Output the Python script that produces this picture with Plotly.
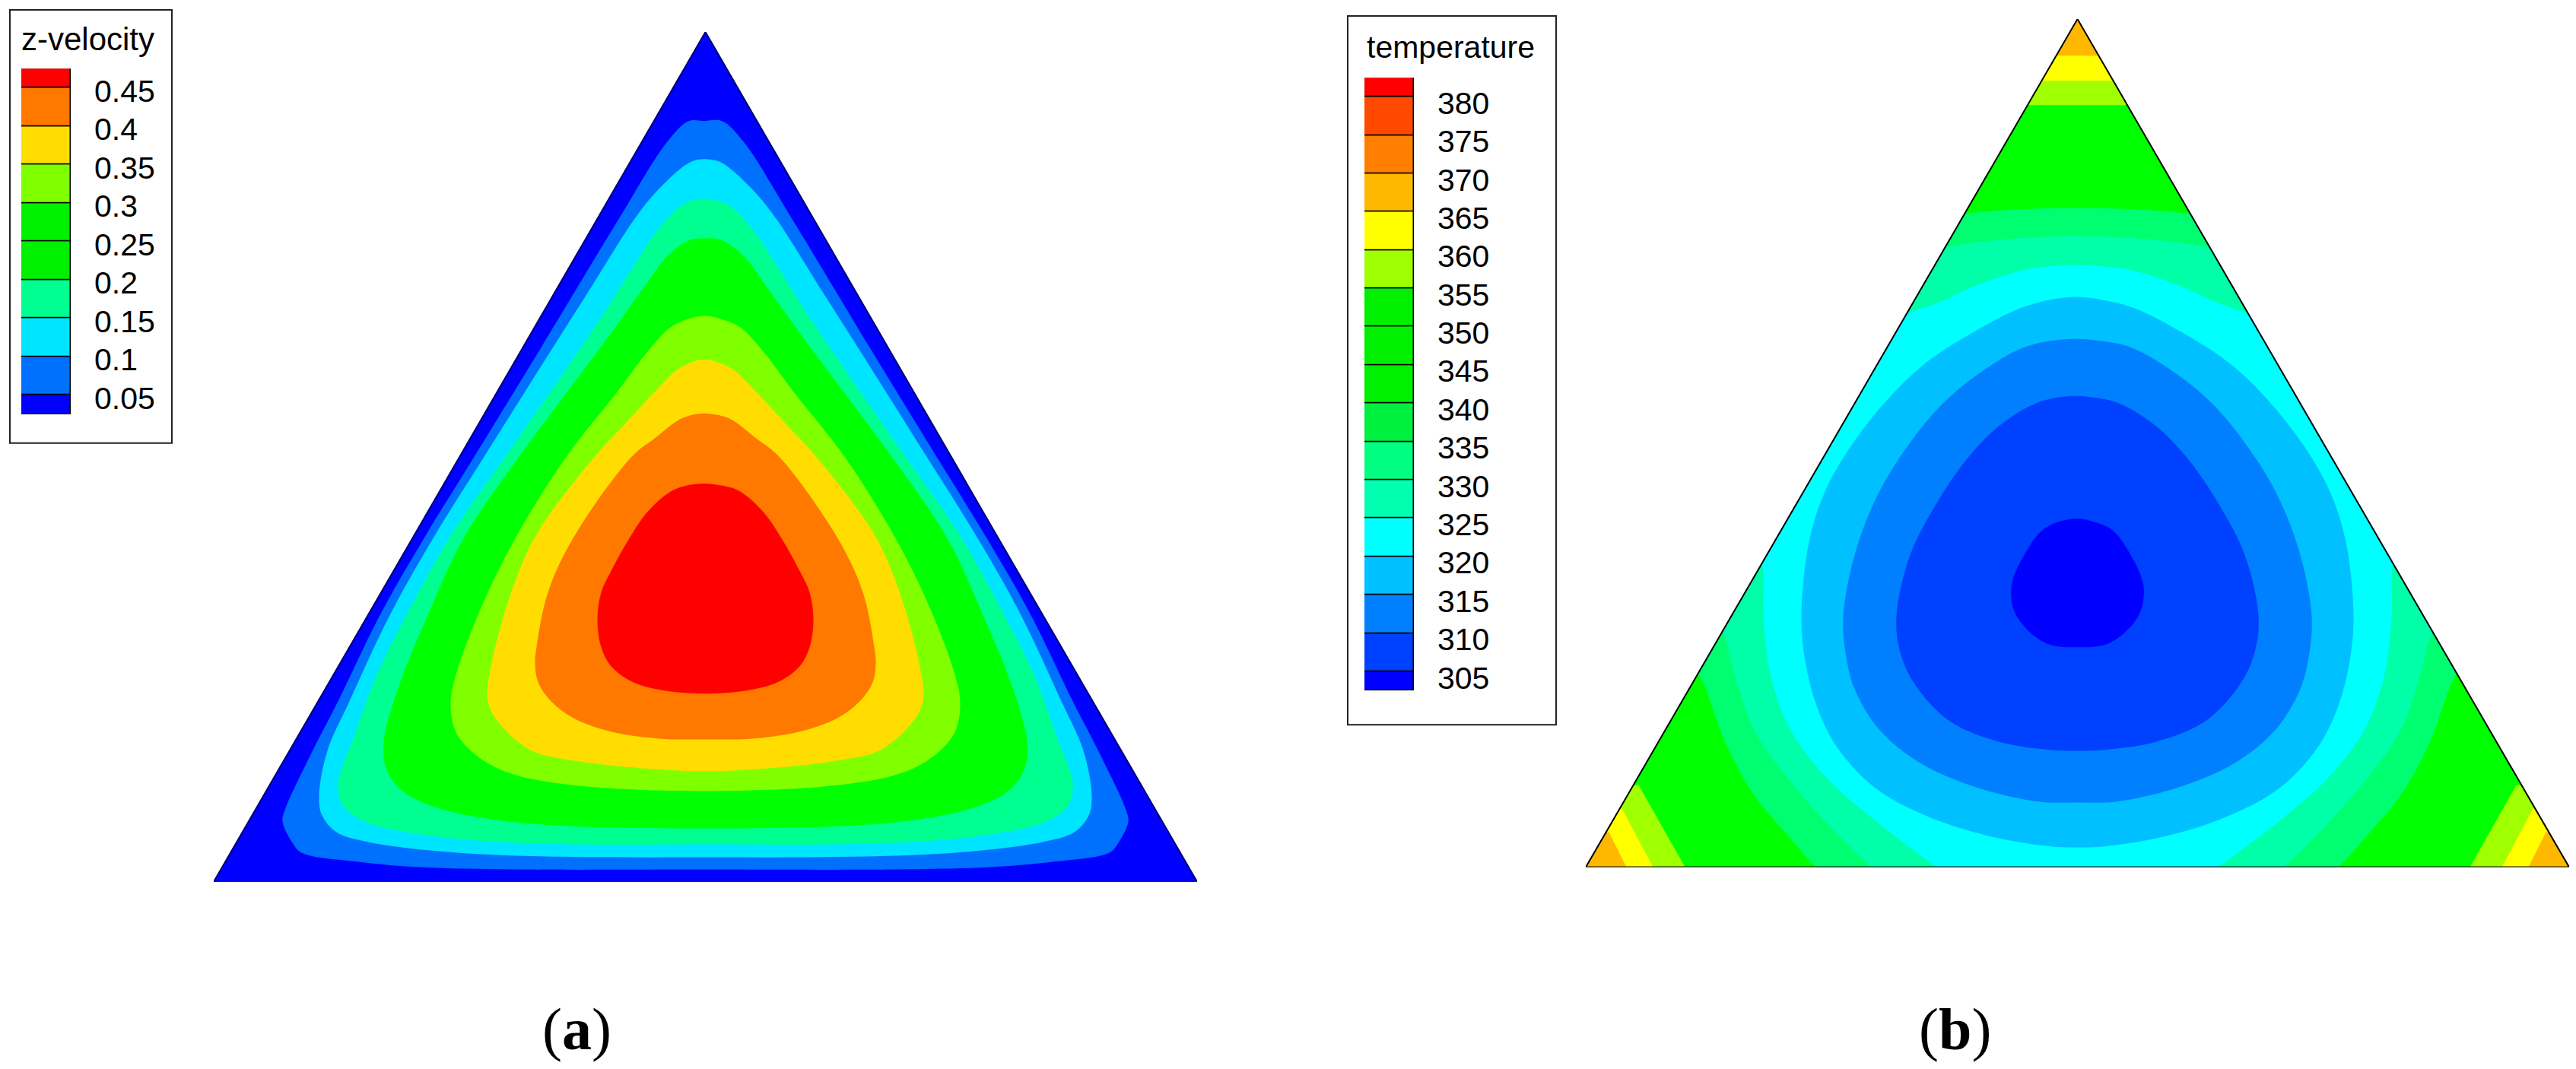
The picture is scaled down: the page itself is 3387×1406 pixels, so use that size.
import plotly.graph_objects as go

# the page keeps the browser's 8px body margin, so the figure starts at (8, 8)
PAGE_W, PAGE_H = 3387, 1406
MARGIN = 8
W, H = PAGE_W - 2 * MARGIN, PAGE_H - 2 * MARGIN
# the photo comes back a little squashed in height
Y_FIX = 0.9943

# legend (a): band edges, colours, labels
vel_edges = [0.025, 0.05, 0.1, 0.15, 0.2, 0.25, 0.3, 0.35, 0.4, 0.45, 0.475]
vel_colors = ["#0000ff", "#0070ff", "#00e5ff", "#00ff90", "#00f000", "#00f000",
              "#80ff00", "#ffdd00", "#ff7800", "#ff0000"]
vel_ticks = [0.05, 0.1, 0.15, 0.2, 0.25, 0.3, 0.35, 0.4, 0.45]
vel_labels = ["0.05", "0.1", "0.15", "0.2", "0.25", "0.3", "0.35", "0.4", "0.45"]

# legend (b)
temp_edges = [302.5, 305, 310, 315, 320, 325, 330, 335, 340, 345, 350, 355, 360,
              365, 370, 375, 380, 382.5]
temp_colors = ["#0000ff", "#0040ff", "#0080ff", "#00c0ff", "#00ffff", "#00ffb0",
               "#00ff80", "#00f040", "#00f000", "#00f000", "#00f000", "#a0ff00",
               "#ffff00", "#ffb800", "#ff8000", "#ff4800", "#ff0000"]
temp_ticks = [305, 310, 315, 320, 325, 330, 335, 340, 345, 350, 355, 360, 365,
              370, 375, 380]

# z-velocity contour lines, right half, from the top centre round to the bottom centre
vel05_x = [0, 22, 50, 113, 217, 304, 370, 428, 483, 520, 553, 556, 543, 531, 456, 373, 249, 0]
vel05_y = [999, 999, 972, 872, 700, 558, 451, 350, 237, 165, 94, 79, 51, 38, 26, 19, 16, 16]
vel10_x = [0, 20, 57, 90, 157, 230, 291, 358, 415, 468, 497, 508, 504, 485, 448, 373, 249, 0]
vel10_y = [949, 945, 914, 875, 770, 655, 558, 451, 350, 237, 172, 112, 87, 65, 53, 42, 34, 32]
vel15_x = [0, 30, 67, 95, 143, 199, 263, 337, 393, 432, 462, 483, 477, 448, 373, 249, 0]
vel15_y = [897, 889, 850, 807, 732, 650, 558, 451, 350, 272, 190, 129, 101, 79, 62, 51, 49]
vel20_x = [0, 20, 50, 77, 129, 185, 245, 318, 365, 402, 423, 419, 398, 352, 249, 0]
vel20_y = [845, 843, 822, 786, 714, 639, 558, 451, 350, 260, 183, 147, 119, 97, 78, 70]
vel30_x = [0, 43, 73, 117, 183, 250, 295, 328, 335, 330, 319, 290, 249, 166, 0]
vel30_y = [743, 730, 700, 642, 558, 451, 360, 272, 235, 201, 183, 158, 140, 126, 119]
vel35_x = [0, 33, 67, 107, 150, 225, 262, 284, 287, 282, 265, 228, 166, 83, 0]
vel35_y = [686, 675, 643, 600, 553, 451, 360, 272, 245, 225, 201, 172, 158, 149, 145]
vel40_x = [0, 30, 67, 97, 174, 207, 222, 224, 220, 203, 174, 124, 62, 0]
vel40_y = [615, 609, 582, 558, 451, 380, 308, 287, 262, 237, 215, 197, 188, 187]
vel45_x = [0, 41, 75, 100, 124, 137, 142, 137, 124, 95, 54, 0]
vel45_y = [523, 515, 487, 451, 408, 380, 344, 308, 283, 262, 251, 247]

# temperature contour lines, right half; points past the triangle sit under the mask
t335_x = [0, 80, 148, 240, 500, 620, 545, 496, 464, 426, 381, 343, 270, 0]
t335_y = [866, 864, 858, 835, 700, 450, 330, 251, 166, 96, 42, 0, -60, -80]
t330_x = [0, 80, 169, 260, 500, 610, 520, 467, 450, 425, 377, 324, 271, 200, 0]
t330_y = [829, 826, 815, 790, 650, 430, 380, 309, 250, 180, 112, 52, 0, -60, -80]
t325_x = [0, 67, 133, 187, 224, 320, 520, 480, 425, 414, 413, 403, 377, 333, 267, 185, 100, 0]
t325_y = [791, 785, 764, 740, 727, 680, 550, 470, 440, 394, 330, 250, 180, 121, 62, 0, -60, -80]
t320_x = [0, 67, 133, 200, 250, 300, 333, 353, 363, 358, 343, 317, 267, 200, 117, 33, 0]
t320_y = [749, 737, 705, 662, 614, 550, 491, 427, 330, 271, 212, 159, 105, 68, 41, 27, 26]
t315_x = [0, 67, 133, 183, 233, 267, 293, 308, 305, 293, 260, 207, 133, 50, 0]
t315_y = [694, 684, 646, 603, 539, 480, 410, 330, 282, 234, 180, 137, 105, 86, 85]
t310_x = [0, 50, 100, 143, 187, 220, 238, 233, 213, 167, 100, 33, 0]
t310_y = [619, 611, 582, 539, 475, 410, 330, 282, 239, 191, 164, 154, 153]
t305_x = [0, 43, 70, 87, 80, 43, 0]
t305_y = [458, 445, 410, 368, 330, 295, 289]

# hot corners of the temperature field, lower right
t355_x = [516, 577, 650, 650]
t355_y = [0, 108, 108, 0]
t360_x = [558, 599, 650, 650]
t360_y = [0, 77, 77, 0]
t365_x = [593, 616, 650, 650]
t365_y = [0, 46, 46, 0]
# same levels at the top corner
top_levels = [1001, 1033, 1066]


def mirror(x, y):
    # runs one point past the start so the spline has no kink at the top
    mx = x + [-v for v in reversed(x[1:-1])] + [x[0], x[1]]
    my = y + list(reversed(y[1:-1])) + [y[0], y[1]]
    return mx, my


def patch(x, y, color, xa, ya, shape="spline"):
    return go.Scatter(x=x, y=y, xaxis=xa, yaxis=ya, mode="lines", fill="toself",
                      fillcolor=color, line=dict(width=0, shape=shape, color=color),
                      hoverinfo="skip", showlegend=False)


fig = go.Figure()
green = "#00ff00"

# panel a
half_a = 646.5
top_a = 1116
fig.add_trace(patch([-half_a, half_a, 0, -half_a], [0, 0, top_a, 0], vel_colors[0], "x", "y", "linear"))
vel_lines = [(vel05_x, vel05_y, vel_colors[1]), (vel10_x, vel10_y, vel_colors[2]),
             (vel15_x, vel15_y, vel_colors[3]), (vel20_x, vel20_y, green),
             (vel30_x, vel30_y, vel_colors[6]), (vel35_x, vel35_y, vel_colors[7]),
             (vel40_x, vel40_y, vel_colors[8]), (vel45_x, vel45_y, vel_colors[9])]
for lx, ly, c in vel_lines:
    mx, my = mirror(lx, ly)
    fig.add_trace(patch(mx, my, c, "x", "y"))
fig.add_trace(go.Scatter(x=[-half_a, half_a, 0, -half_a], y=[0, 0, top_a, 0], mode="lines",
                         line=dict(color="#000070", width=2), cliponaxis=False,
                         hoverinfo="skip", showlegend=False))

# panel b
half_b = 646.5
top_b = 1114
fig.add_trace(patch([-half_b, half_b, 0, -half_b], [0, 0, top_b, 0], green, "x2", "y2", "linear"))
for cx, cy, c, lev in [(t355_x, t355_y, "#a0ff00", top_levels[0]),
                       (t360_x, t360_y, "#ffff00", top_levels[1]),
                       (t365_x, t365_y, "#ffb800", top_levels[2])]:
    fig.add_trace(patch(cx, cy, c, "x2", "y2", "linear"))
    fig.add_trace(patch([-v for v in cx], cy, c, "x2", "y2", "linear"))
    fig.add_trace(patch([-200, 200, 200, -200], [lev, lev, top_b, top_b], c, "x2", "y2", "linear"))
temp_lines = [(t335_x, t335_y, "#00ff70"), (t330_x, t330_y, "#00ffa8"),
              (t325_x, t325_y, "#00ffff"), (t320_x, t320_y, "#00c0ff"),
              (t315_x, t315_y, "#0080ff"), (t310_x, t310_y, "#0040ff"),
              (t305_x, t305_y, "#0000ff")]
for lx, ly, c in temp_lines:
    mx, my = mirror(lx, ly)
    fig.add_trace(patch(mx, my, c, "x2", "y2"))
# white cover outside the triangle
fig.add_trace(patch([-half_b, 0, -half_b, -half_b], [0, top_b, top_b, 0], "#ffffff", "x2", "y2", "linear"))
fig.add_trace(patch([half_b, 0, half_b, half_b], [0, top_b, top_b, 0], "#ffffff", "x2", "y2", "linear"))
fig.add_trace(go.Scatter(x=[-half_b, half_b, 0, -half_b], y=[0, 0, top_b, 0], xaxis="x2", yaxis="y2",
                         mode="lines", line=dict(color="#000000", width=2), cliponaxis=False,
                         hoverinfo="skip", showlegend=False))


def legend_bar(edges, colors, xa, ya):
    return go.Bar(x=[0.5] * len(colors), y=[b - a for a, b in zip(edges[:-1], edges[1:])],
                  base=edges[:-1], width=1, xaxis=xa, yaxis=ya,
                  marker=dict(color=colors, line=dict(color="#000000", width=1.5)),
                  cliponaxis=False, hoverinfo="skip", showlegend=False)


fig.add_trace(legend_bar(vel_edges, vel_colors, "x3", "y3"))
fig.add_trace(legend_bar(temp_edges, temp_colors, "x4", "y4"))


def xp(px):
    return (px - MARGIN) / W


def yp(py):
    return 1 - (py / Y_FIX - MARGIN) / H


def xdom(a, b):
    return [xp(a), xp(b)]


def ydom(top, bottom):
    return [yp(bottom), yp(top)]


hidden = dict(visible=False, showgrid=False, zeroline=False)
tick_font = dict(family="Liberation Sans", size=41, color="#000000")
# labels in the picture sit a few pixels under their band edge
vel_shift = 0.004
temp_shift = 0.8


def note(text, x, y, anchor, family, size):
    return dict(text=text, x=xp(x), y=yp(y), xref="paper", yref="paper", xanchor=anchor, yanchor="middle",
                showarrow=False, font=dict(family=family, size=size, color="#000000"))


def box(x0, x1, top, bottom):
    return dict(type="rect", xref="paper", yref="paper", x0=xp(x0), x1=xp(x1), y0=yp(bottom), y1=yp(top),
                line=dict(color="#222222", width=2), layer="below")


fig.update_layout(
    width=W, height=H, margin=dict(l=0, r=0, t=0, b=0),
    paper_bgcolor="white", plot_bgcolor="rgba(0,0,0,0)", barmode="overlay", bargap=0,
    xaxis=dict(domain=xdom(281, 1574), range=[-half_a, half_a], **hidden),
    yaxis=dict(domain=ydom(42, 1158), range=[0, top_a], **hidden),
    xaxis2=dict(domain=xdom(2085, 3378), range=[-half_b, half_b], **hidden),
    yaxis2=dict(domain=ydom(25, 1139), range=[0, top_b], **hidden),
    xaxis3=dict(domain=xdom(28, 93), range=[0, 1], **hidden),
    yaxis3=dict(domain=ydom(90, 544), range=[vel_edges[0], vel_edges[-1]], anchor="x3", side="right",
                tickmode="array", tickvals=[v - vel_shift for v in vel_ticks], ticktext=vel_labels,
                tickfont=tick_font, ticks="", ticklabelstandoff=30, showgrid=False, zeroline=False,
                showline=False),
    xaxis4=dict(domain=xdom(1794, 1859), range=[0, 1], **hidden),
    yaxis4=dict(domain=ydom(102, 907), range=[temp_edges[0], temp_edges[-1]], anchor="x4", side="right",
                tickmode="array", tickvals=[v - temp_shift for v in temp_ticks], ticktext=[str(v) for v in temp_ticks],
                tickfont=tick_font, ticks="", ticklabelstandoff=30, showgrid=False, zeroline=False,
                showline=False),
    shapes=[box(13, 226, 13, 582), box(1772, 2046, 21, 952)],
    annotations=[
        note("z-velocity", 26, 51, "left", "Liberation Sans", 42),
        note("temperature", 1795, 62, "left", "Liberation Sans", 41),
        note("(<b>a</b>)", 758, 1352, "center", "Liberation Serif", 78),
        note("(<b>b</b>)", 2570, 1352, "center", "Liberation Serif", 78),
    ],
)

fig.write_html("out.html")
